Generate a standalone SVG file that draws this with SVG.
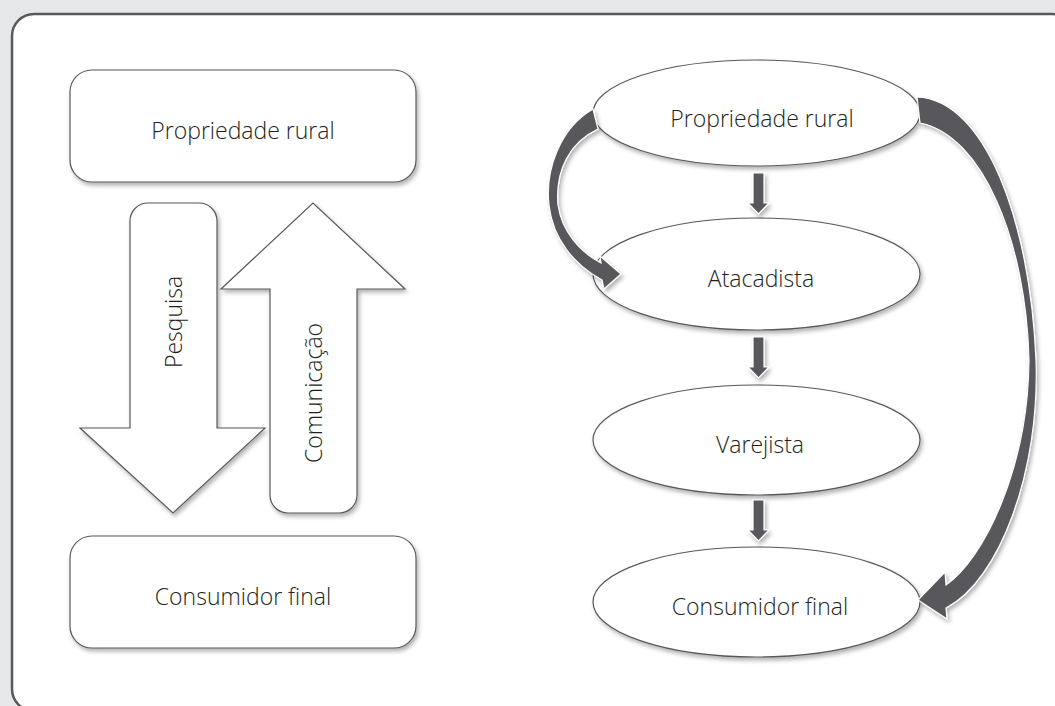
<svg xmlns="http://www.w3.org/2000/svg" width="1055" height="706" viewBox="0 0 1055 706">
  <defs>
    <filter id="sh" x="-10%" y="-10%" width="130%" height="130%">
      <feDropShadow dx="2" dy="3" stdDeviation="2" flood-color="#000" flood-opacity="0.3"/>
    </filter>
    <style>
      .node { fill: #fff; stroke: #58595b; stroke-width: 1.2; filter: url(#sh); }
      .lbl { font-family: "Open Sans", "Liberation Sans", sans-serif; font-weight: 300; font-size: 23px; fill: #231f20; text-anchor: middle; }
      .conn { fill: #58595b; stroke: #fff; stroke-width: 1.2; filter: url(#sh); }
    </style>
  </defs>
  <rect x="0" y="0" width="1055" height="706" fill="#e6e7e8"/>
  <rect id="frame" x="12" y="14" width="1062" height="697" rx="22" ry="22" fill="#fff" stroke="#58595b" stroke-width="2.5"/>

  <g id="box-propriedade">
    <rect class="node" x="70" y="70" width="346" height="112" rx="22" ry="22"/>
    <text class="lbl" x="243" y="139">Propriedade rural</text>
  </g>
  <g id="box-consumidor">
    <rect class="node" x="70" y="536" width="346" height="112" rx="22" ry="22"/>
    <text class="lbl" x="243" y="605">Consumidor final</text>
  </g>
  <g id="arrow-pesquisa">
    <path class="node" d="M130,221 A18,18 0 0 1 148,203 H199 A18,18 0 0 1 217,221 V428 H265 L173,513 L80,428 H130 Z"/>
    <text class="lbl" transform="translate(182,322) rotate(-90)" x="0" y="0">Pesquisa</text>
  </g>
  <g id="arrow-comunicacao">
    <path class="node" d="M270,289 H221 L313,203 L405,289 H357 V495 A18,18 0 0 1 339,513 H288 A18,18 0 0 1 270,495 Z"/>
    <text class="lbl" transform="translate(322,393) rotate(-90)" x="0" y="0">Comunicação</text>
  </g>

  <g id="ell-propriedade">
    <ellipse class="node" cx="756.5" cy="113" rx="163.5" ry="53"/>
    <text class="lbl" x="762" y="127">Propriedade rural</text>
  </g>
  <g id="ell-atacadista">
    <ellipse class="node" cx="756.5" cy="274" rx="163.5" ry="56"/>
    <text class="lbl" x="761" y="287">Atacadista</text>
  </g>
  <g id="ell-varejista">
    <ellipse class="node" cx="756.5" cy="440" rx="163.5" ry="55"/>
    <text class="lbl" x="760" y="453">Varejista</text>
  </g>
  <g id="ell-consumidor">
    <ellipse class="node" cx="756.5" cy="602" rx="163.5" ry="55"/>
    <text class="lbl" x="760" y="615">Consumidor final</text>
  </g>

  <g id="connectors">
    <path class="conn" d="M753,173 H764 V203 H769 L758.5,214 L748,203 H753 Z"/>
    <path class="conn" d="M753,337 H764 V367 H769 L758.5,378 L748,367 H753 Z"/>
    <path class="conn" d="M753,500 H764 V530 H769 L758.5,541 L748,530 H753 Z"/>
    <path class="conn" d="M593,109 C560,128 545,170 549,205 C553,240 575,265 602,280 L604,289 L621,274 L600,256 L601,263 C580,252 562,232 558,205 C555,170 570,142 598,129 Z"/>
    <path class="conn" d="M917,97 C985,100 1030,220 1036,360 C1040,470 1000,580 946,608 L947,619 L918,600 L945,572 L946,585 C983,560 1028,470 1029,360 C1026,240 982,135 920,123 Z"/>
  </g>
</svg>
